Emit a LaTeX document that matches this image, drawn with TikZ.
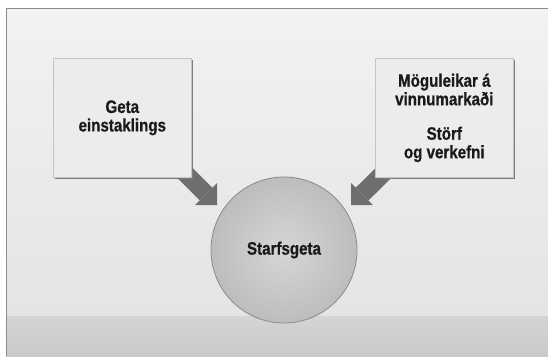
\documentclass[tikz,border=0pt]{standalone}
\usepackage{fontspec}
\setmainfont{Liberation Sans}[FakeStretch=0.84, BoldFeatures={FakeBold=0.7}]
\usetikzlibrary{arrows.meta,shadows,calc}
\definecolor{pagebg}{HTML}{F2F2F2}
\definecolor{pagebg2}{HTML}{E4E4E4}
\definecolor{bandtop}{HTML}{D4D4D4}
\definecolor{bandbot}{HTML}{CACACA}
\definecolor{framec}{HTML}{8C8C8C}
\definecolor{cardfill}{HTML}{ECECEC}
\definecolor{cardline}{HTML}{C4C4C4}
\definecolor{shadowc}{HTML}{7C7C7C}
\definecolor{arrowc}{HTML}{6E6E6E}
\definecolor{ballin}{HTML}{D6D6D6}
\definecolor{ballout}{HTML}{BDBDBD}
\definecolor{ballline}{HTML}{8A8A8A}
\definecolor{inkc}{HTML}{1A1A1A}
\pgfdeclarelayer{back}
\pgfdeclarelayer{mid}
\pgfsetlayers{back,mid,main}
\begin{document}
\begin{tikzpicture}[x=1pt,y=-1pt,
  card/.style={draw=cardline, line width=0.6pt, fill=cardfill,
    minimum width=138pt, minimum height=119pt, inner sep=0pt,
    anchor=north west, align=center, text=inkc,
    font=\fontsize{18}{18.5}\selectfont\bfseries,
    drop shadow={shadow xshift=2pt, shadow yshift=-2pt, fill=shadowc, opacity=1}},
  ball/.style={circle, draw=ballline, line width=0.8pt, inner color=ballin, outer color=ballout,
    minimum size=146pt, inner sep=0pt, text=inkc,
    font=\fontsize{18}{18.5}\selectfont\bfseries},
  blockarrow/.style={draw=arrowc, line width=18pt,
    -{Triangle[width=31pt,length=15.5pt,line width=0pt,fill=arrowc]}}]
\useasboundingbox (0,0) rectangle (548,356);

\begin{pgfonlayer}{back}
  \fill[white] (0,0) rectangle (548,356);
  \shade[top color=pagebg, bottom color=pagebg2] (6,8) rectangle (548,316);
  \shade[top color=bandtop, bottom color=bandbot] (6,316) rectangle (548,356);
  \draw[framec, line width=1pt] (6,356) -- (6,8) -- (548,8);
\end{pgfonlayer}

\node[card] (lbox) at (53,58) {Geta\\einstaklings};
\node[card] (rbox) at (375,58) {Möguleikar á\\vinnumarkaði\\[16pt]Störf\\og verkefni};
\node[ball] (ctr) at (284,250) {Starfsgeta};

\coordinate (ltip) at (217,205);
\coordinate (rtip) at (351,205);

\begin{pgfonlayer}{mid}
  \draw[blockarrow] ($(lbox.south east)+(-14,-12)$) -- (ltip);
  \draw[blockarrow] ($(rbox.south west)+(16,-12)$) -- (rtip);
\end{pgfonlayer}
\end{tikzpicture}
\end{document}
